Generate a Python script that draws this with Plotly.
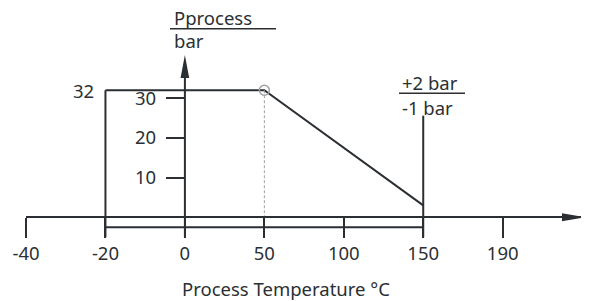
import plotly.graph_objects as go

# ---- data ----
TEMP_TICKS = ["-40", "-20", "0", "50", "100", "150", "190"]
P_TICKS = [10, 20, 30]
T_PROFILE = ["-20", "50", "150"]
P_PROFILE = [32, 32, 3]
P_MAX_LABEL = "32"
T_MIN = "-20"
T_KNEE = "50"
T_MAX = "150"

# ---- geometry / style ----
W, H = 589, 301
OFF = 8  # page body margin in the viewer
FONT = "Noto Sans"
FS = 18.5
INK = "#2b2f33"
GREY = "#a0a0a0"
X_DOM = [(26 - OFF) / W, (585 - OFF) / W]
X_RANGE = [0, 7.036]
Y_RANGE = [-23.1, 52.72]
TICK_DEPTH = -5.0
RAIL = -2.5
LEADER_TOP = 25.6
Y_AXIS_TOP = 40.9


def px(x):
    return (x - OFF) / W


def py(y):
    return 1 - (y - OFF) / H


x_zero_pos = X_DOM[0] + (X_DOM[1] - X_DOM[0]) * (TEMP_TICKS.index("0") - X_RANGE[0]) / (X_RANGE[1] - X_RANGE[0])
y_zero_pos = (0 - Y_RANGE[0]) / (Y_RANGE[1] - Y_RANGE[0])

line = dict(color=INK, width=2)
fig = go.Figure()
fig.add_trace(go.Scatter(x=T_PROFILE, y=P_PROFILE, mode="lines", line=line))
fig.add_trace(go.Scatter(x=[T_MIN, T_MIN], y=[P_PROFILE[0], TICK_DEPTH], mode="lines", line=line))
fig.add_trace(go.Scatter(x=[T_MIN, T_MAX], y=[RAIL, RAIL], mode="lines", line=line))
fig.add_trace(go.Scatter(x=[T_MAX, T_MAX], y=[LEADER_TOP, TICK_DEPTH], mode="lines", line=line))
fig.add_trace(go.Scatter(x=["0", "0"], y=[TICK_DEPTH, Y_AXIS_TOP - 2], mode="lines", line=line))
fig.add_trace(go.Scatter(x=[T_KNEE, T_KNEE], y=[P_PROFILE[1], 0], mode="lines",
                         line=dict(color=GREY, width=1, dash="3px,2px")))
fig.add_trace(go.Scatter(x=[T_KNEE], y=[P_PROFILE[1]], mode="markers",
                         marker=dict(symbol="circle-open", size=10, color=GREY, line=dict(width=1.5, color=GREY))))

fig.add_shape(type="path", xref="x", yref="y", xsizemode="pixel", ysizemode="pixel",
              xanchor=X_RANGE[1], yanchor=0, path="M0,0 L-23,4 L-23,-4 Z",
              fillcolor=INK, line=dict(width=0))
fig.add_shape(type="path", xref="x", yref="y", xsizemode="pixel", ysizemode="pixel",
              xanchor=TEMP_TICKS.index("0"), yanchor=Y_AXIS_TOP, path="M0,0 L-4.3,-23 L4.3,-23 Z",
              fillcolor=INK, line=dict(width=0))

tf = dict(family=FONT, size=FS, color=INK)
fig.add_annotation(x=px(172), y=py(17.5), xref="paper", yref="paper", text="Pprocess",
                   showarrow=False, xanchor="left", yanchor="middle", font=tf)
fig.add_annotation(x=px(172), y=py(41), xref="paper", yref="paper", text="bar",
                   showarrow=False, xanchor="left", yanchor="middle", font=tf)
fig.add_shape(type="line", xref="paper", yref="paper", x0=px(170), x1=px(276), y0=py(28.7), y1=py(28.7),
              line=dict(color=INK, width=1.5))
fig.add_annotation(x=px(400), y=py(82), xref="paper", yref="paper", text="+2 bar",
                   showarrow=False, xanchor="left", yanchor="middle", font=tf)
fig.add_annotation(x=px(400), y=py(107.5), xref="paper", yref="paper", text="-1 bar",
                   showarrow=False, xanchor="left", yanchor="middle", font=tf)
fig.add_shape(type="line", xref="paper", yref="paper", x0=px(399), x1=px(465), y0=py(93.3), y1=py(93.3),
              line=dict(color=INK, width=1.5))
fig.add_annotation(x=TEMP_TICKS.index(T_MIN), y=P_PROFILE[0], xref="x", yref="y", text=P_MAX_LABEL,
                   showarrow=False, xanchor="right", yanchor="middle", xshift=-9, font=tf)
fig.add_annotation(x=px(286), y=py(288), xref="paper", yref="paper", text="Process Temperature °C",
                   showarrow=False, xanchor="center", yanchor="middle", font=tf)

fig.update_layout(
    width=W, height=H, margin=dict(l=0, r=0, t=0, b=0, autoexpand=False),
    paper_bgcolor="white", plot_bgcolor="white", showlegend=False,
    xaxis=dict(type="category", categoryorder="array", categoryarray=TEMP_TICKS, automargin=False,
               tickvals=TEMP_TICKS, domain=X_DOM, range=X_RANGE, anchor="free", position=y_zero_pos,
               showline=True, linecolor=INK, linewidth=2, ticks="outside", ticklen=20,
               tickwidth=2, tickcolor=INK, tickfont=tf, showgrid=False, zeroline=False, fixedrange=True),
    yaxis=dict(range=Y_RANGE, domain=[0, 1], anchor="free", position=x_zero_pos, side="left", automargin=False,
               tickvals=P_TICKS, showline=False, ticks="outside", ticklen=19, tickwidth=2, tickcolor=INK,
               tickfont=tf, showgrid=False, zeroline=False, fixedrange=True, ticklabelstandoff=6),
)

fig.write_html("out.html")
